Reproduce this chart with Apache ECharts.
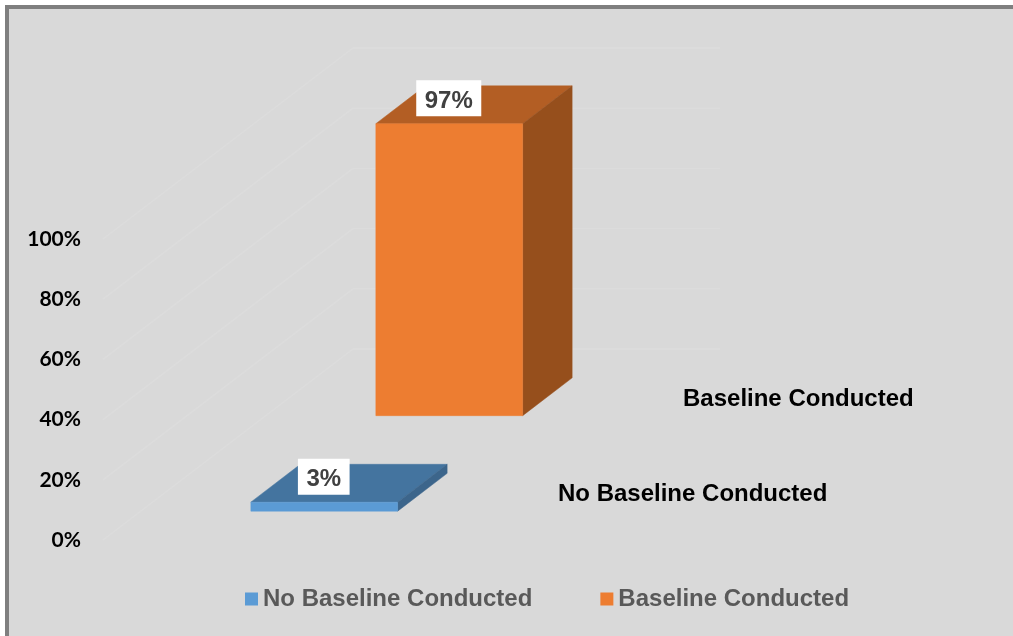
<!DOCTYPE html>
<html>
<head>
<meta charset="utf-8">
<style>
  html, body { margin: 0; padding: 0; background: #ffffff; overflow: hidden; }
  #frame { position: absolute; left: 5px; top: 5px; right: 0; bottom: 0;
           background: #d9d9d9; border-left: 4px solid #7f7f7f; border-top: 4px solid #7f7f7f; }
  #chart { position: absolute; left: 0; top: 0; width: 1013px; height: 636px; }
</style>
<script src="https://cdn.jsdelivr.net/npm/echarts@6/dist/echarts.min.js"></script>
</head>
<body>
<div id="frame"></div>
<div id="chart"></div>
<script>
// Share of projects by baseline status, drawn as a 3-D column chart.
const categories = ['Projects'];
const seriesNames = ['No Baseline Conducted', 'Baseline Conducted'];
const noBaselineValues = [3];
const baselineValues = [97];
const valueTicks = [0, 20, 40, 60, 80, 100];

// Oblique projection: the full floor depth shifts a point right and up by these amounts.
const DEPTH_X = 250;
const DEPTH_Y = -191;
const BAR_WIDTH_SHARE = 0.4;      // column width relative to the category band
const BAR_DEPTH_SHARE = 0.198;    // column depth relative to the floor depth
const SANS = '"Liberation Sans", Arial, sans-serif';

const project = (pt, depth) => [pt[0] + DEPTH_X * depth, pt[1] + DEPTH_Y * depth];
const poly = (points, fill) => ({
  type: 'polygon',
  shape: { points },
  style: { fill, stroke: fill, lineWidth: 0.5 }
});

// Back wall and side wall gridlines for one axis tick.
function renderWalls(params, api) {
  const c = api.coord([api.value(0), api.value(1)]);
  const band = api.size([1, 0])[0];
  const left = [c[0] - band / 2, c[1]];
  const right = [c[0] + band / 2, c[1]];
  const line = (a, b) => ({
    type: 'line',
    shape: { x1: a[0], y1: a[1], x2: b[0], y2: b[1] },
    style: { stroke: '#dcdcdc', lineWidth: 1.5 }
  });
  return {
    type: 'group',
    children: [
      line(left, project(left, 1)),
      line(project(left, 1), project(right, 1))
    ]
  };
}

// One 3-D column placed in its own depth slot, with a value box and a floor caption.
function columnRenderer(name, slotCentre, colors) {
  return function (params, api) {
    const cat = api.value(0);
    const value = api.value(1);
    const base = api.coord([cat, 0]);
    const top = api.coord([cat, value]);
    const band = api.size([1, 0])[0];
    const half = band * BAR_WIDTH_SHARE / 2;
    const near = slotCentre - BAR_DEPTH_SHARE / 2;
    const far = slotCentre + BAR_DEPTH_SHARE / 2;

    const p = (dx, y, depth) => project([base[0] + dx, y], depth);
    const front = [p(-half, top[1], near), p(half, top[1], near), p(half, base[1], near), p(-half, base[1], near)];
    const roof = [p(-half, top[1], near), p(half, top[1], near), p(half, top[1], far), p(-half, top[1], far)];
    const side = [p(half, top[1], near), p(half, top[1], far), p(half, base[1], far), p(half, base[1], near)];

    const labelAt = p(0, top[1], near);
    const floorEnd = project([base[0] + band / 2, base[1]], slotCentre);

    return {
      type: 'group',
      children: [
        poly(roof, colors.roof),
        poly(side, colors.side),
        poly(front, colors.front),
        {
          type: 'text',
          z2: 10,
          style: {
            text: value + '%',
            x: labelAt[0] - 0.5,
            y: labelAt[1] - 43.5,
            align: 'center',
            verticalAlign: 'top',
            font: 'bold 24px ' + SANS,
            fill: '#404040',
            backgroundColor: '#ffffff',
            padding: [9, 8.5, 3, 8.5]
          }
        },
        {
          type: 'text',
          style: {
            text: name,
            x: floorEnd[0] + 25.5,
            y: floorEnd[1] + 2.5,
            align: 'left',
            verticalAlign: 'middle',
            font: 'bold 24px ' + SANS,
            fill: '#000000'
          }
        }
      ]
    };
  };
}

const chart = echarts.init(document.getElementById('chart'), null, { renderer: 'canvas' });
chart.setOption({
  animation: false,
  backgroundColor: 'transparent',
  grid: { left: 103, top: 239, width: 367, height: 301 },
  legend: {
    data: seriesNames,
    left: 240,
    top: 582,
    icon: 'rect',
    itemWidth: 13,
    itemHeight: 13,
    itemGap: 68,
    textStyle: {
      fontFamily: SANS,
      fontSize: 24,
      fontWeight: 'bold',
      color: '#595959'
    }
  },
  xAxis: {
    type: 'category',
    data: categories,
    axisLine: { show: false },
    axisTick: { show: false },
    axisLabel: { show: false }
  },
  yAxis: {
    type: 'value',
    min: 0,
    max: 100,
    interval: 20,
    axisLine: { show: false },
    axisTick: { show: false },
    splitLine: { show: false },
    axisLabel: {
      formatter: '{value}%',
      margin: 22,
      fontFamily: 'Lato',
      fontWeight: 'bold',
      fontSize: 21,
      color: '#000000'
    }
  },
  series: [
    {
      type: 'custom',
      name: 'walls',
      z: 1,
      silent: true,
      renderItem: renderWalls,
      data: valueTicks.map(v => [0, v])
    },
    {
      type: 'custom',
      name: seriesNames[0],
      z: 3,
      itemStyle: { color: '#5b9bd5' },
      renderItem: columnRenderer(seriesNames[0], 0.25, { front: '#5b9bd5', roof: '#44749f', side: '#3c658b' }),
      data: noBaselineValues.map((v, i) => [i, v])
    },
    {
      type: 'custom',
      name: seriesNames[1],
      z: 2,
      itemStyle: { color: '#ed7d31' },
      renderItem: columnRenderer(seriesNames[1], 0.75, { front: '#ed7d31', roof: '#b35e24', side: '#964f1c' }),
      data: baselineValues.map((v, i) => [i, v])
    }
  ]
});
</script>
</body>
</html>
